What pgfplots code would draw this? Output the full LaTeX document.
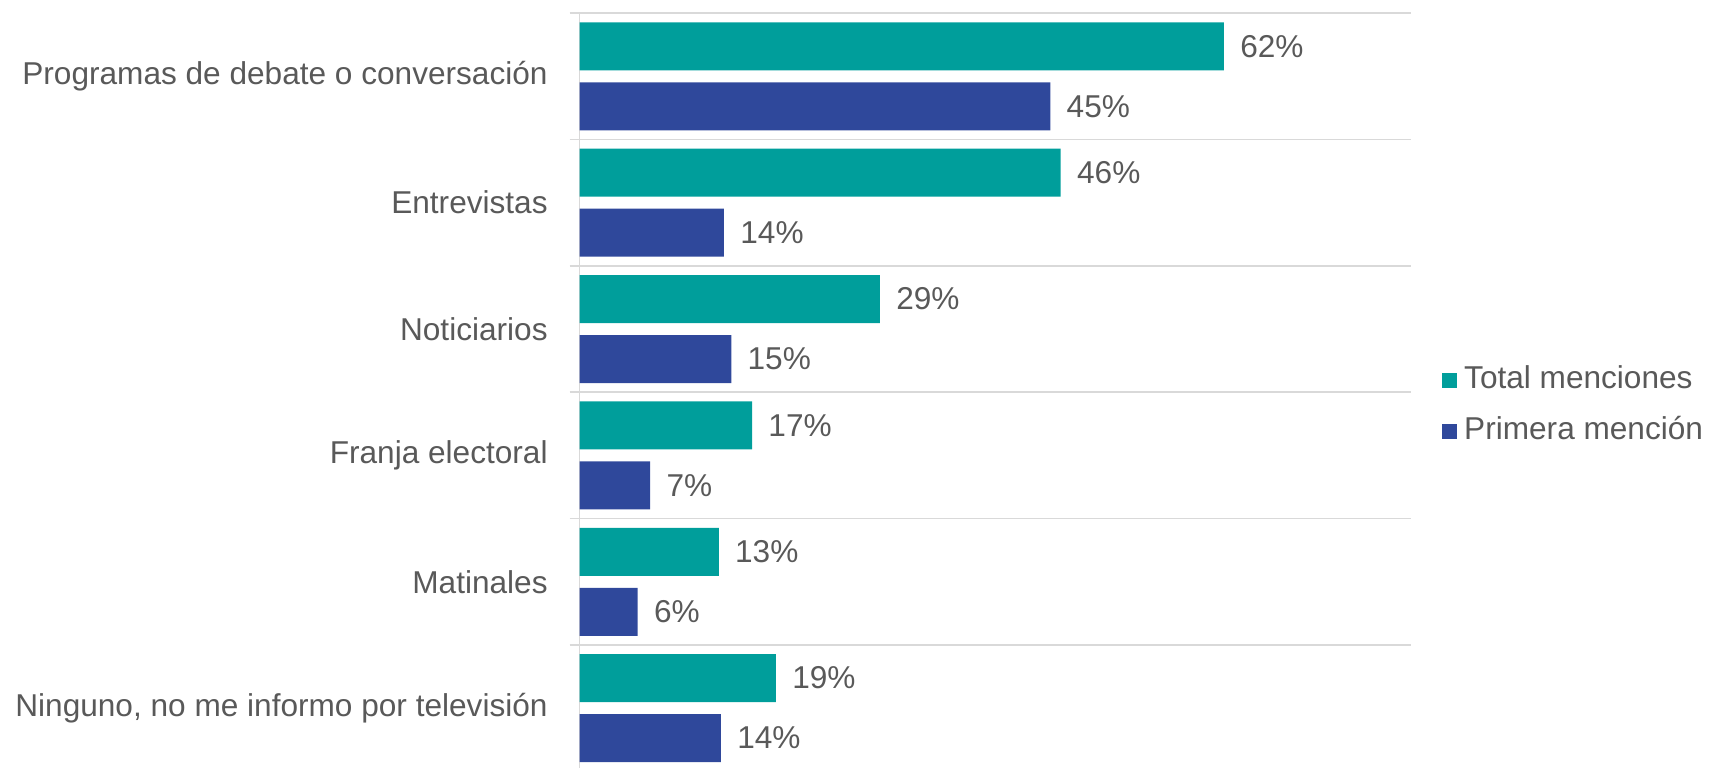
\documentclass[border=0pt]{standalone}
\usepackage{fontspec}
\setmainfont{Liberation Sans}
\usepackage{pgfplots}
\pgfplotsset{compat=1.18}
\definecolor{teal1}{RGB}{0,158,155}
\definecolor{blue1}{RGB}{47,72,155}
\definecolor{txt}{RGB}{89,89,89}
\definecolor{grd}{RGB}{217,217,217}
\newcommand{\lblfont}{\fontsize{15.8pt}{19pt}\selectfont}
\begin{document}
\begin{tikzpicture}
\useasboundingbox (0,0) rectangle (855.5pt,383.5pt);
\begin{axis}[
  at={(289.75pt,376.95pt)}, anchor=north west,
  scale only axis, width=415.75pt, height=379.1pt,
  xmin=0, xmax=80, ymin=-0.5, ymax=5.5, y dir=reverse,
  clip=false,
  axis x line=none, axis y line*=left,
  y axis line style={grd, line width=0.9pt, -},
  ytick={0,...,5},
  yticklabels={Programas de debate o conversación, Entrevistas, Noticiarios, Franja electoral, Matinales, {Ninguno, no me informo por televisión}},
  major tick length=0pt,
  minor ytick={-0.5,0.5,...,5.5},
  minor tick length=5pt, tick align=outside, ytick pos=left,
  minor tick style={grd, line width=0.9pt},
  yminorgrids, minor grid style={grd, line width=0.9pt},
  yticklabel style={font=\lblfont, text=txt, anchor=east, inner sep=0pt, xshift=-15.75pt},
  xbar, bar width=24pt,
  point meta=x,
  nodes near coords={\pgfmathprintnumber[assume math mode=true, fixed, precision=0]{\pgfplotspointmeta}\%},
  nodes near coords style={anchor=west, inner sep=0pt, xshift=8pt, font=\lblfont, text=txt},
  legend style={at={(1.0373,0.482)}, anchor=west, draw=none, fill=none, inner sep=0pt, outer sep=0pt, row sep=11.5pt, font=\lblfont, text=txt, nodes={inner sep=0pt, text height=11pt, text depth=3pt}, /tikz/every odd column/.append style={column sep=3.6pt}},
  legend cell align=left,
  legend image code/.code={\fill[#1] (0pt,-3.75pt) rectangle (7.5pt,3.75pt);},
]
\addplot[fill=teal1, draw=none, bar shift=15pt] coordinates {(62.0,0) (46.3,1) (28.9,2) (16.6,3) (13.4,4) (18.9,5)};
\addlegendentry{Total menciones}
\addplot[fill=blue1, draw=none, bar shift=-15pt] coordinates {(45.3,0) (13.9,1) (14.6,2) (6.8,3) (5.6,4) (13.6,5)};
\addlegendentry{Primera mención}
\end{axis}
\end{tikzpicture}
\end{document}
